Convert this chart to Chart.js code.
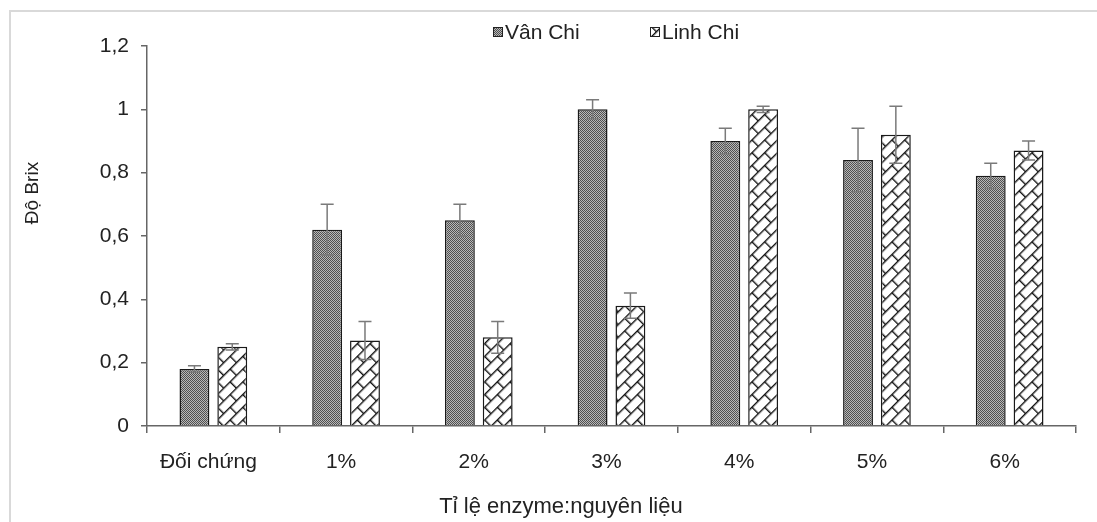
<!DOCTYPE html>
<html>
<head>
<meta charset="utf-8">
<script src="https://cdn.jsdelivr.net/npm/chart.js@4.4.0/dist/chart.umd.min.js"></script>
<style>
  html, body { margin: 0; padding: 0; background: #fff; }
  #wrap { width: 1097px; height: 522px; }
</style>
</head>
<body>
<div id="wrap"><canvas id="my-chart" width="1097" height="522"></canvas></div>
<script>
'use strict';

//data
let categories = ['Đối chứng', '1%', '2%', '3%', '4%', '5%', '6%'];
let vanChi = [0.18, 0.62, 0.65, 1.00, 0.90, 0.84, 0.79];
let vanChiErr = [0.01, 0.08, 0.05, 0.03, 0.04, 0.10, 0.04];
let linhChi = [0.25, 0.27, 0.28, 0.38, 1.00, 0.92, 0.87];
let linhChiErr = [0.01, 0.06, 0.05, 0.04, 0.01, 0.09, 0.03];
let yTicks = [0, 0.2, 0.4, 0.6, 0.8, 1, 1.2];

const FONT = '"Liberation Sans", Arial, sans-serif';
const ctx = document.getElementById('my-chart').getContext('2d');

//fill patterns
function dotPattern() {
  let c = document.createElement('canvas');
  c.width = 2;
  c.height = 2;
  let g = c.getContext('2d');
  g.fillStyle = '#b8b8b8';
  g.fillRect(0, 0, 2, 2);
  g.fillStyle = '#505050';
  g.fillRect(0, 0, 1, 1);
  g.fillRect(1, 1, 1, 1);
  return ctx.createPattern(c, 'repeat');
}

function brickPattern() {
  let c = document.createElement('canvas');
  c.width = 18;
  c.height = 18;
  let g = c.getContext('2d');
  g.fillStyle = '#fff';
  g.fillRect(0, 0, 18, 18);
  g.fillStyle = '#111';
  g.fillRect(0, 0, 18, 1.4);
  g.fillRect(0, 9, 18, 1.4);
  g.fillRect(0, 0, 1.4, 9);
  g.fillRect(9, 9, 1.4, 9);
  let p = ctx.createPattern(c, 'repeat');
  p.setTransform(new DOMMatrix().rotateSelf(-45));
  return p;
}

let vanFill = dotPattern();
let linhFill = brickPattern();

function comma(v) {
  return String(Math.round(v * 10) / 10).replace('.', ',');
}

//border, titles and legend
const decorations = {
  id: 'decorations',
  beforeDraw(chart) {
    let c = chart.ctx;
    c.save();
    c.fillStyle = '#fff';
    c.fillRect(0, 0, chart.width, chart.height);
    c.strokeStyle = '#d9d9d9';
    c.lineWidth = 2;
    c.beginPath();
    c.moveTo(10, 530);
    c.lineTo(10, 11);
    c.lineTo(1097, 11);
    c.stroke();
    c.restore();
  },
  afterDraw(chart) {
    let c = chart.ctx;
    c.save();
    c.fillStyle = '#222';
    c.textAlign = 'center';
    c.textBaseline = 'middle';
    c.font = '22px ' + FONT;
    c.fillText('Tỉ lệ enzyme:nguyên liệu', 561, 507);
    c.save();
    c.font = '19px ' + FONT;
    c.translate(33, 193);
    c.rotate(-Math.PI / 2);
    c.fillText('Độ Brix', 0, 0);
    c.restore();

    //legend
    let items = [
      { x: 493, fill: vanFill, label: chart.data.datasets[0].label },
      { x: 650, fill: linhFill, label: chart.data.datasets[1].label }
    ];
    c.textAlign = 'left';
    c.font = '21px ' + FONT;
    items.forEach(function(it) {
      c.fillStyle = it.fill;
      c.fillRect(it.x, 27, 10, 10);
      c.strokeStyle = '#222';
      c.lineWidth = 1;
      c.strokeRect(it.x + 0.5, 27.5, 9, 9);
      c.fillStyle = '#222';
      c.fillText(it.label, it.x + 12, 33);
    });
    c.restore();
  }
};

//error bars
const errorBars = {
  id: 'errorBars',
  afterDatasetsDraw(chart) {
    let c = chart.ctx;
    let y = chart.scales.y;
    let errs = [vanChiErr, linhChiErr];
    c.save();
    c.strokeStyle = '#7a7a7a';
    c.lineWidth = 1.5;
    chart.data.datasets.forEach(function(ds, di) {
      chart.getDatasetMeta(di).data.forEach(function(bar, i) {
        let top = y.getPixelForValue(ds.data[i] + errs[di][i]);
        let bot = y.getPixelForValue(ds.data[i] - errs[di][i]);
        c.beginPath();
        c.moveTo(bar.x, top);
        c.lineTo(bar.x, bot);
        c.moveTo(bar.x - 6.5, top);
        c.lineTo(bar.x + 6.5, top);
        c.moveTo(bar.x - 6.5, bot);
        c.lineTo(bar.x + 6.5, bot);
        c.stroke();
      });
    });
    c.restore();
  }
};

const myChart = new Chart(ctx, {
  type: 'bar',
  data: {
    labels: categories,
    datasets: [{
      label: 'Vân Chi',
      data: vanChi,
      backgroundColor: vanFill,
      borderColor: '#1a1a1a',
      borderWidth: 1.5,
      categoryPercentage: 0.57,
      barPercentage: 0.79
    },
    {
      label: 'Linh Chi',
      data: linhChi,
      backgroundColor: linhFill,
      borderColor: '#1a1a1a',
      borderWidth: 1.5,
      categoryPercentage: 0.57,
      barPercentage: 0.79
    }]
  },
  options: {
    responsive: false,
    animation: false,
    layout: { padding: { left: 0, right: 21, top: 46, bottom: 0 } },
    plugins: {
      legend: { display: false },
      tooltip: { enabled: false }
    },
    scales: {
      x: {
        afterFit(scale) { scale.height = 96; },
        border: { color: '#666', width: 1.5 },
        grid: { offset: true, drawOnChartArea: false, drawTicks: true, tickLength: 7, color: '#666', lineWidth: 1.5 },
        ticks: { color: '#222', padding: 17, labelOffset: -5, font: { family: FONT, size: 21 } }
      },
      y: {
        min: 0,
        max: 1.2,
        afterFit(scale) { scale.width = 147; },
        afterBuildTicks(scale) { scale.ticks = yTicks.map(function(v) { return { value: v }; }); },
        border: { color: '#666', width: 1.5 },
        grid: { drawOnChartArea: false, drawTicks: true, tickLength: 6, color: '#666', lineWidth: 1.5 },
        ticks: {
          color: '#222',
          padding: 12,
          font: { family: FONT, size: 21 },
          callback: function(v) { return comma(v); }
        }
      }
    }
  },
  plugins: [decorations, errorBars]
});
</script>
</body>
</html>
